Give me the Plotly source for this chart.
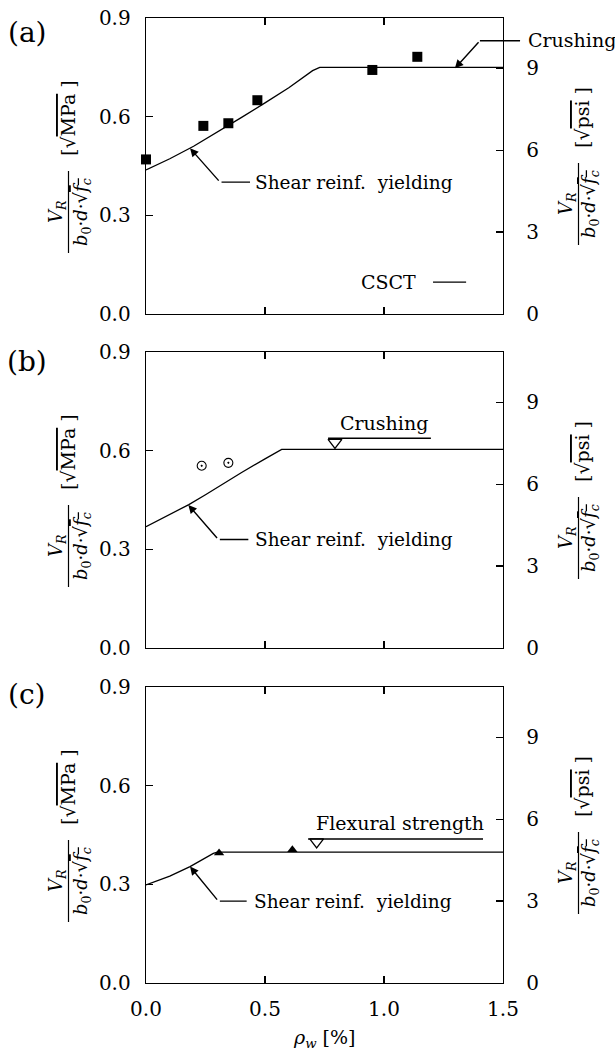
import plotly.graph_objects as go

W, H = 615, 1053

# ---------------- data ----------------
x_ticks = [0.0, 0.5, 1.0, 1.5]
x_ticktext = ["0.0", "0.5", "1.0", "1.5"]
y_ticks = [0.0, 0.3, 0.6, 0.9]
y_ticktext = ["0.0", "0.3", "0.6", "0.9"]
psi_ticks = [0, 3, 6, 9]
mpa_to_psi = 12.043

# (a)
x_csct_a = [0.0, 0.1, 0.2, 0.3, 0.4, 0.5, 0.6, 0.7, 0.73, 1.5]
y_csct_a = [0.438, 0.472, 0.510, 0.553, 0.597, 0.642, 0.688, 0.740, 0.750, 0.750]
x_test_a = [0.0, 0.241, 0.346, 0.468, 0.951, 1.14]
y_test_a = [0.470, 0.572, 0.580, 0.650, 0.742, 0.782]

# (b)
x_csct_b = [0.0, 0.1, 0.18, 0.25, 0.4, 0.5, 0.57, 1.5]
y_csct_b = [0.369, 0.405, 0.436, 0.466, 0.533, 0.575, 0.604, 0.604]
x_test_b = [0.234, 0.346]
y_test_b = [0.554, 0.563]
x_crush_b = [0.794]
y_crush_b = [0.625]

# (c)
x_csct_c = [0.0, 0.1, 0.185, 0.234, 0.283, 0.30, 1.5]
y_csct_c = [0.298, 0.325, 0.354, 0.374, 0.394, 0.398, 0.398]
x_test_c = [0.307, 0.615]
y_test_c = [0.395, 0.405]
x_flex_c = [0.717]
y_flex_c = [0.429]

FONT = "DejaVu Serif"

# ---------------- layout helpers ----------------
xdom = [146 / W, 503 / W]
tops = [18, 352, 687]
bots = [314, 648, 983]


def py(p):
    return 1 - p / H


def px(p):
    return p / W


fig = go.Figure()

panels = [
    dict(xs=x_csct_a, ys=y_csct_a),
    dict(xs=x_csct_b, ys=y_csct_b),
    dict(xs=x_csct_c, ys=y_csct_c),
]

layout = dict(
    template="none",
    width=W, height=H,
    margin=dict(l=0, r=0, t=0, b=0, autoexpand=False),
    paper_bgcolor="white", plot_bgcolor="white",
    showlegend=False,
    font=dict(family=FONT, size=20, color="black"),
)

for i in range(3):
    xn = "x" if i == 0 else f"x{i+1}"
    yl = "y" if i == 0 else f"y{2*i+1}"
    yr = f"y{2*i+2}"
    xkey = "xaxis" if i == 0 else f"xaxis{i+1}"
    ylkey = "yaxis" if i == 0 else f"yaxis{2*i+1}"
    yrkey = f"yaxis{2*i+2}"
    ydom = [py(bots[i]), py(tops[i])]
    layout[xkey] = dict(
        domain=xdom, anchor=yl, range=[0, 1.5], tickvals=x_ticks, ticktext=x_ticktext,
        ticks="inside", ticklen=7, tickwidth=1.2, tickcolor="black",
        showline=True, linecolor="black", linewidth=1.3, mirror="ticks",
        showgrid=False, zeroline=False, showticklabels=(i == 2),
        ticklabelstandoff=8, automargin=False,
        tickfont=dict(family=FONT, size=20, color="black"),
    )
    layout[ylkey] = dict(
        domain=ydom, anchor=xn, range=[0, 0.9], tickvals=y_ticks, ticktext=y_ticktext,
        ticks="inside", ticklen=7, tickwidth=1.2, tickcolor="black",
        showline=True, linecolor="black", linewidth=1.3, mirror=False,
        showgrid=False, zeroline=False, ticklabelstandoff=10, automargin=False,
        tickfont=dict(family=FONT, size=20, color="black"),
    )
    layout[yrkey] = dict(
        domain=ydom, anchor=xn, overlaying=yl, side="right",
        range=[0, 0.9 * mpa_to_psi], tickvals=psi_ticks,
        ticks="inside", ticklen=7, tickwidth=1.2, tickcolor="black",
        showline=True, linecolor="black", linewidth=1.3,
        showgrid=False, zeroline=False, ticklabelstandoff=18, automargin=False,
        tickfont=dict(family=FONT, size=20, color="black"),
    )
    # CSCT curve (left axis)
    fig.add_trace(go.Scatter(x=panels[i]["xs"], y=panels[i]["ys"], mode="lines",
                             line=dict(color="black", width=1.3), xaxis=xn, yaxis=yl,
                             cliponaxis=False, hoverinfo="skip"))
    # same curve expressed in sqrt(psi) on the right axis (invisible, keeps the axis drawn)
    fig.add_trace(go.Scatter(x=panels[i]["xs"], y=[v * mpa_to_psi for v in panels[i]["ys"]],
                             mode="lines", line=dict(color="rgba(0,0,0,0)", width=0),
                             xaxis=xn, yaxis=yr, hoverinfo="skip"))

# markers
fig.add_trace(go.Scatter(x=x_test_a, y=y_test_a, mode="markers",
                         marker=dict(symbol="square", size=10, color="black"),
                         xaxis="x", yaxis="y", cliponaxis=False))
fig.add_trace(go.Scatter(x=x_test_b, y=y_test_b, mode="markers",
                         marker=dict(symbol="circle-open-dot", size=9, color="black",
                                     line=dict(width=1.1, color="black")),
                         xaxis="x2", yaxis="y3", cliponaxis=False))
fig.add_trace(go.Scatter(x=x_crush_b, y=y_crush_b, mode="markers",
                         marker=dict(symbol="triangle-down-open", size=12, color="black",
                                     line=dict(width=1.3, color="black")),
                         xaxis="x2", yaxis="y3", cliponaxis=False))
fig.add_trace(go.Scatter(x=x_test_c, y=y_test_c, mode="markers",
                         marker=dict(symbol="triangle-up", size=9, color="black"),
                         xaxis="x3", yaxis="y5", cliponaxis=False))
fig.add_trace(go.Scatter(x=x_flex_c, y=y_flex_c, mode="markers",
                         marker=dict(symbol="triangle-down-open", size=12, color="black",
                                     line=dict(width=1.3, color="black")),
                         xaxis="x3", yaxis="y5", cliponaxis=False))

ann = []
shapes = []


def arrow(xr, yr, hx, hy, tx, ty, head=2):
    ann.append(dict(x=hx, y=hy, xref=xr, yref=yr, ax=tx, ay=ty, axref=xr, ayref=yr,
                    text="", showarrow=True, arrowhead=head, arrowsize=1.2,
                    arrowwidth=1.4, arrowcolor="black", standoff=0, startstandoff=0))


def label(xr, yr, x, y, text, xanchor="left", size=19):
    ann.append(dict(x=x, y=y, xref=xr, yref=yr, text=text, showarrow=False,
                    xanchor=xanchor, yanchor="middle",
                    font=dict(family=FONT, size=size, color="black")))


# Shear reinf. yielding
for (xr, yr, hx, hy, cx, cy, ex, tx) in [
    ("x", "y", 0.185, 0.504, 0.311, 0.401, 0.437, 0.45),
    ("x2", "y3", 0.178, 0.435, 0.304, 0.330, 0.430, 0.451),
    ("x3", "y5", 0.185, 0.354, 0.304, 0.249, 0.423, 0.444),
]:
    arrow(xr, yr, hx, hy, cx, cy, head=2)
    arrow(xr, yr, ex, cy, cx, cy, head=0)
    label(xr, yr, tx, cy, "Shear reinf.  yielding", size=18.5)

# (a) Crushing
arrow("x", "y", 1.298, 0.747, 1.403, 0.831, head=2)
arrow("x", "y", 1.403, 0.831, 1.578, 0.831, head=0)
ann.append(dict(x=px(526), y=py(40.5), xref="paper", yref="paper", text="Crushing",
                showarrow=False, xanchor="left", yanchor="middle",
                font=dict(family=FONT, size=19, color="black")))

# (a) legend
label("x", "y", 1.143, 0.097, "CSCT", xanchor="right")
shapes.append(dict(type="line", xref="x", yref="y", x0=1.206, x1=1.345, y0=0.097, y1=0.097,
                   line=dict(color="black", width=1.2)))

# (b) Crushing
label("x2", "y3", 0.998, 0.684, "Crushing", xanchor="center")
shapes.append(dict(type="line", xref="x2", yref="y3", x0=0.765, x1=1.197, y0=0.638, y1=0.638,
                   line=dict(color="black", width=1.5)))

# (c) Flexural strength
label("x3", "y5", 1.067, 0.486, "Flexural strength", xanchor="center")
shapes.append(dict(type="line", xref="x3", yref="y5", x0=0.681, x1=1.416, y0=0.438, y1=0.438,
                   line=dict(color="black", width=1.5)))

# panel letters
for letter, yc in [("(a)", 32), ("(b)", 362), ("(c)", 694)]:
    ann.append(dict(x=px(27), y=py(yc), xref="paper", yref="paper", text=letter,
                    showarrow=False, xanchor="center", yanchor="middle",
                    font=dict(family=FONT, size=28, color="black")))

# y titles
num = "<i>V</i><sub><i>R</i></sub>"
den_span = "<i>b</i><sub>0</sub>·<i>d</i>·√<span style='text-decoration:overline'><i>f</i><sub><i>c</i></sub></span>"
unit_l = "[√<span style='text-decoration:overline'>MPa</span> ]"
unit_r = "[√<span style='text-decoration:overline'>psi</span> ]"

for i in range(3):
    pc = (tops[i] + bots[i]) / 2
    # left
    fc = pc + 46
    for xpix, txt in [(57, num), (82, den_span)]:
        ann.append(dict(x=px(xpix), y=py(fc), xref="paper", yref="paper", text=txt,
                        textangle=-90, showarrow=False, xanchor="center", yanchor="middle",
                        font=dict(family=FONT, size=18, color="black")))
    shapes.append(dict(type="line", xref="paper", yref="paper", x0=px(68.5), x1=px(68.5),
                       y0=py(fc - 41), y1=py(fc + 41), line=dict(color="black", width=1.2)))
    ann.append(dict(x=px(68), y=py(pc - 48), xref="paper", yref="paper", text=unit_l,
                    textangle=-90, showarrow=False, xanchor="center", yanchor="middle",
                    font=dict(family=FONT, size=19, color="black")))
    # right
    fc = pc + 38
    for xpix, txt in [(567, num), (590, den_span)]:
        ann.append(dict(x=px(xpix), y=py(fc), xref="paper", yref="paper", text=txt,
                        textangle=-90, showarrow=False, xanchor="center", yanchor="middle",
                        font=dict(family=FONT, size=18, color="black")))
    shapes.append(dict(type="line", xref="paper", yref="paper", x0=px(578.5), x1=px(578.5),
                       y0=py(fc - 41), y1=py(fc + 41), line=dict(color="black", width=1.2)))
    ann.append(dict(x=px(582), y=py(pc - 48), xref="paper", yref="paper", text=unit_r,
                    textangle=-90, showarrow=False, xanchor="center", yanchor="middle",
                    font=dict(family=FONT, size=19, color="black")))

# x title
ann.append(dict(x=(xdom[0] + xdom[1]) / 2, y=py(1038), xref="paper", yref="paper",
                text="<i>ρ</i><sub><i>w</i></sub> [%]", showarrow=False,
                xanchor="center", yanchor="middle",
                font=dict(family=FONT, size=19, color="black")))

layout["annotations"] = ann
layout["shapes"] = shapes
fig.update_layout(**layout)
fig.write_html(
    "out.html",
    config={"displayModeBar": False, "staticPlot": True},
    post_script="document.body.style.margin='0px';document.body.style.padding='0px';"
                "document.body.style.overflow='hidden';",
)
